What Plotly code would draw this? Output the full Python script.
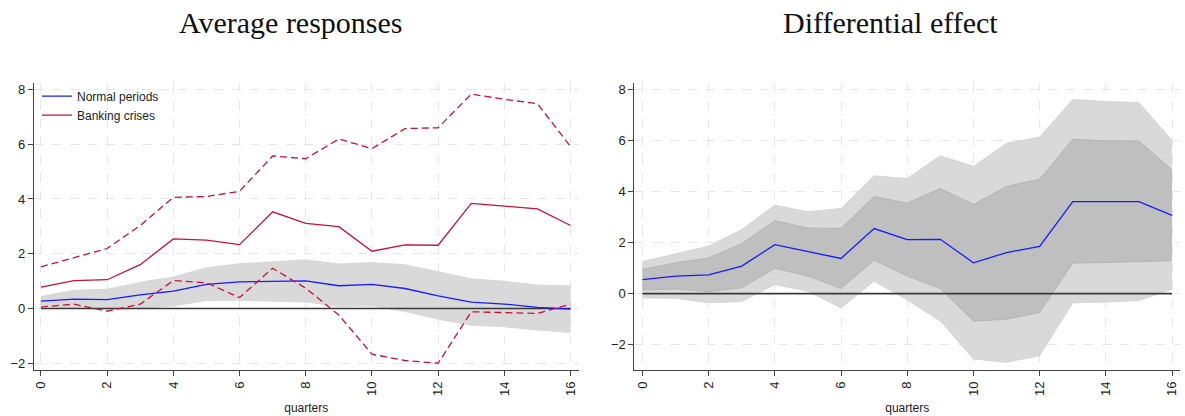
import plotly.graph_objects as go

quarters = list(range(17))

# Left panel: average responses
normal_irf = [0.27, 0.34, 0.32, 0.50, 0.63, 0.88, 0.97, 1.00, 1.01, 0.83, 0.88, 0.73, 0.46, 0.23, 0.16, 0.04, -0.02]
normal_hi = [0.46, 0.68, 0.72, 0.98, 1.17, 1.51, 1.65, 1.73, 1.80, 1.64, 1.70, 1.62, 1.36, 1.10, 1.01, 0.88, 0.85]
normal_lo = [0.05, -0.02, -0.05, -0.02, 0.07, 0.27, 0.28, 0.24, 0.22, 0.05, 0.07, -0.13, -0.41, -0.63, -0.69, -0.80, -0.90]

crisis_irf = [0.78, 1.02, 1.05, 1.60, 2.54, 2.50, 2.33, 3.53, 3.11, 2.99, 2.09, 2.32, 2.31, 3.84, 3.74, 3.64, 3.03]
crisis_hi = [1.52, 1.86, 2.19, 3.03, 4.06, 4.09, 4.28, 5.57, 5.47, 6.19, 5.84, 6.57, 6.60, 7.83, 7.64, 7.48, 5.91]
crisis_lo = [0.05, 0.16, -0.10, 0.16, 1.02, 0.94, 0.40, 1.47, 0.74, -0.24, -1.67, -1.90, -2.00, -0.12, -0.15, -0.18, 0.16]

# Right panel: differential effect
diff_irf = [0.55, 0.69, 0.74, 1.08, 1.92, 1.64, 1.38, 2.55, 2.12, 2.13, 1.21, 1.61, 1.85, 3.61, 3.60, 3.61, 3.07]
diff_hi68 = [0.95, 1.21, 1.40, 1.96, 2.86, 2.57, 2.56, 3.81, 3.55, 4.12, 3.50, 4.20, 4.49, 6.05, 5.99, 5.98, 4.85]
diff_lo68 = [0.14, 0.18, 0.08, 0.23, 0.99, 0.69, 0.20, 1.31, 0.69, 0.20, -1.08, -1.00, -0.74, 1.20, 1.22, 1.26, 1.29]
diff_hi90 = [1.26, 1.55, 1.86, 2.51, 3.47, 3.21, 3.34, 4.62, 4.51, 5.40, 4.99, 5.89, 6.14, 7.61, 7.53, 7.49, 6.01]
diff_lo90 = [-0.17, -0.18, -0.36, -0.31, 0.36, 0.09, -0.56, 0.49, -0.25, -1.07, -2.56, -2.69, -2.43, -0.36, -0.33, -0.27, 0.17]

zero_line = [0] * len(quarters)

x_ticks = [0, 2, 4, 6, 8, 10, 12, 14, 16]
y_ticks = [-2, 0, 2, 4, 6, 8]
titles = ["Average responses", "Differential effect"]

BLUE = "#1a1aff"
RED = "#c8103c"
BAND = "#d9d9d9"
BAND_IN = "#bfbfbf"
W, H = 1185, 416

fig = go.Figure()

def band(lo, hi, color, xa, ya, edge=None):
    fig.add_trace(go.Scatter(x=quarters, y=lo, mode="lines", line=dict(width=0.8 if edge else 0, color=edge or color),
                             showlegend=False, hoverinfo="skip", xaxis=xa, yaxis=ya))
    fig.add_trace(go.Scatter(x=quarters, y=hi, mode="lines", line=dict(width=0.8 if edge else 0, color=edge or color),
                             fill="tonexty", fillcolor=color, showlegend=False, hoverinfo="skip", xaxis=xa, yaxis=ya))

# left
band(normal_lo, normal_hi, BAND, "x", "y")
fig.add_trace(go.Scatter(x=quarters, y=zero_line, mode="lines", line=dict(color="#3a3a3a", width=1.6),
                         showlegend=False, hoverinfo="skip", xaxis="x", yaxis="y"))
fig.add_trace(go.Scatter(x=quarters, y=normal_irf, mode="lines", name="Normal periods",
                         line=dict(color=BLUE, width=1.3), xaxis="x", yaxis="y"))
fig.add_trace(go.Scatter(x=quarters, y=crisis_irf, mode="lines", name="Banking crises",
                         line=dict(color=RED, width=1.3), xaxis="x", yaxis="y"))
fig.add_trace(go.Scatter(x=quarters, y=crisis_hi, mode="lines", showlegend=False,
                         line=dict(color=RED, width=1.3, dash="7px,4px"), xaxis="x", yaxis="y"))
fig.add_trace(go.Scatter(x=quarters, y=crisis_lo, mode="lines", showlegend=False,
                         line=dict(color=RED, width=1.3, dash="7px,4px"), xaxis="x", yaxis="y"))

# right
band(diff_lo90, diff_hi90, BAND, "x2", "y2", edge="#d0d0d0")
band(diff_lo68, diff_hi68, BAND_IN, "x2", "y2", edge="#b0b0b0")
fig.add_trace(go.Scatter(x=quarters, y=zero_line, mode="lines", line=dict(color="#3a3a3a", width=1.6),
                         showlegend=False, hoverinfo="skip", xaxis="x2", yaxis="y2"))
fig.add_trace(go.Scatter(x=quarters, y=diff_irf, mode="lines", showlegend=False,
                         line=dict(color=BLUE, width=1.3), xaxis="x2", yaxis="y2"))

tickfont = dict(family="Liberation Sans, Arial", size=13, color="#222")
common_x = dict(tickvals=x_ticks, tickangle=-90, showline=True, linecolor="#444", linewidth=1.3,
                ticks="outside", ticklen=5, tickcolor="#444", tickfont=tickfont,
                showgrid=True, gridcolor="#e6e6e6", griddash="dash", gridwidth=1, zeroline=False,
                title=dict(text="quarters", font=dict(family="Liberation Sans, Arial", size=12, color="#222"), standoff=8))
common_y = dict(tickvals=y_ticks, ticktext=["\u22122", "0", "2", "4", "6", "8"], showline=True, linecolor="#444", linewidth=1.3,
                ticks="outside", ticklen=5, tickcolor="#444", tickfont=tickfont,
                showgrid=True, gridcolor="#e6e6e6", griddash="dash", gridwidth=1, zeroline=False)

y0 = (H - 371) / H
y1 = (H - 82) / H
fig.update_layout(
    width=W, height=H, margin=dict(l=0, r=0, t=0, b=0),
    paper_bgcolor="white", plot_bgcolor="white",
    xaxis=dict(domain=[33 / W, 578 / W], range=[-0.21, 16.24], anchor="y", **common_x),
    yaxis=dict(domain=[y0, y1], range=[-2.255, 8.25], anchor="x", **common_y),
    xaxis2=dict(domain=[634 / W, 1180 / W], range=[-0.24, 16.24], anchor="y2", **common_x),
    yaxis2=dict(domain=[y0, y1], range=[-3.0, 8.27], anchor="x2", **common_y),
    legend=dict(x=36 / W, y=(H - 81) / H, xanchor="left", yanchor="top", bgcolor="rgba(0,0,0,0)",
                font=dict(family="Liberation Sans, Arial", size=12, color="#222"), tracegroupgap=0,
                traceorder="normal", itemwidth=30),
    showlegend=True,
)

for txt, cx in zip(titles, [290, 890]):
    fig.add_annotation(text=txt, x=cx / W, y=1 - 22 / H, xref="paper", yref="paper", showarrow=False,
                       xanchor="center", yanchor="middle",
                       font=dict(family="Liberation Serif, Times New Roman", size=30, color="#111"))

fig.write_html("out.html")
